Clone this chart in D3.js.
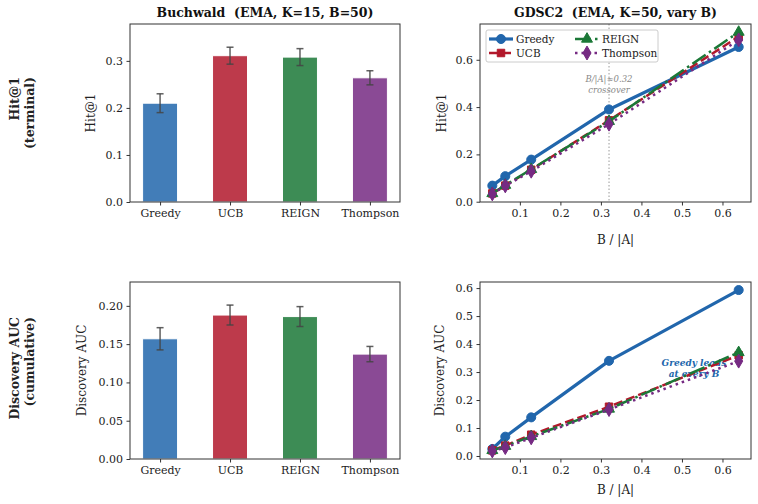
<!DOCTYPE html>
<html>
<head>
<meta charset="utf-8">
<script src="https://cdn.jsdelivr.net/npm/d3@7/dist/d3.min.js"></script>
<style>
  body { margin: 0; background: #fff; }
  svg text { font-family: "DejaVu Serif", serif; }
  .axis path, .axis line { stroke: #333; }
</style>
</head>
<body>
<div id="chart"></div>
<script>
// ---- data ----
const methods = ["Greedy", "UCB", "REIGN", "Thompson"];
const methodColors = ["#2166ac", "#b2182b", "#1b7837", "#762a83"];

// Buchwald bars (mean, error)
const buchHit = [0.210, 0.311, 0.308, 0.264];
const buchHitErr = [0.020, 0.018, 0.018, 0.015];
const buchAuc = [0.157, 0.188, 0.186, 0.137];
const buchAucErr = [0.0145, 0.013, 0.013, 0.010];

// GDSC2 budget sweep
const budgetFrac = [0.032, 0.064, 0.128, 0.32, 0.64];
const gdscHit = {
  Greedy:   [0.068, 0.108, 0.178, 0.390, 0.654],
  UCB:      [0.035, 0.068, 0.135, 0.344, 0.698],
  REIGN:    [0.035, 0.070, 0.137, 0.340, 0.717],
  Thompson: [0.033, 0.067, 0.129, 0.328, 0.684]
};
const gdscAuc = {
  Greedy:   [0.025, 0.069, 0.138, 0.340, 0.593],
  UCB:      [0.020, 0.037, 0.076, 0.176, 0.360],
  REIGN:    [0.020, 0.035, 0.070, 0.168, 0.370],
  Thompson: [0.018, 0.030, 0.065, 0.166, 0.339]
};

const hitTicks = [0, 0.1, 0.2, 0.3];
const aucTicks = [0, 0.05, 0.10, 0.15, 0.20];
const lineHitTicks = [0, 0.2, 0.4, 0.6];
const lineAucTicks = [0, 0.1, 0.2, 0.3, 0.4, 0.5, 0.6];
const fracTicks = [0.1, 0.2, 0.3, 0.4, 0.5, 0.6];

const crossover = 0.32;

// ---- styling per method ----
const lineStyle = {
  Greedy:   {width: 3.2, dash: null, marker: "circle"},
  UCB:      {width: 2.5, dash: "9,4", marker: "square"},
  REIGN:    {width: 2.5, dash: "16,4,2.5,4", marker: "triangle"},
  Thompson: {width: 2.5, dash: "2.5,4", marker: "diamond"}
};
const markerSym = {
  circle: d3.symbolCircle, square: d3.symbolSquare,
  triangle: d3.symbolTriangle, diamond: d3.symbolDiamond
};
const markerSize = {circle: 64, square: 56, triangle: 52, diamond: 56};

const FONT = "DejaVu Serif";
const W = 758, H = 504;
const svg = d3.select("#chart").append("svg")
  .attr("width", W).attr("height", H)
  .attr("font-family", FONT);

const panels = {
  tl: {x0: 130, x1: 400, y0: 24, y1: 202},
  tr: {x0: 480, x1: 751, y0: 24, y1: 202},
  bl: {x0: 130, x1: 400, y0: 282, y1: 459},
  br: {x0: 480, x1: 751, y0: 282, y1: 459}
};

function frame(p) {
  svg.append("rect")
    .attr("x", p.x0).attr("y", p.y0)
    .attr("width", p.x1 - p.x0).attr("height", p.y1 - p.y0)
    .attr("fill", "none").attr("stroke", "#333").attr("stroke-width", 1);
}

function styleAxis(a) {
  a.attr("font-family", FONT).attr("font-size", 11);
  a.select(".domain").remove();
  a.selectAll("text").attr("fill", "#222");
}

function yLabel(p, text, xPos) {
  svg.append("text")
    .attr("transform", "translate(" + xPos + "," + ((p.y0 + p.y1) / 2) + ") rotate(-90)")
    .attr("text-anchor", "middle")
    .attr("font-size", 12).attr("fill", "#222")
    .text(text);
}

function barPanel(p, vals, errs, ticks, fmt, label, labelX) {
  let x = d3.scaleLinear().domain([-0.43, 3.43]).range([p.x0, p.x1]);
  let ymax = d3.max(vals.map((v, i) => v + errs[i])) * 1.15;
  let y = d3.scaleLinear().domain([0, ymax]).range([p.y1, p.y0]);
  let bw = x(0.5) - x(0);

  let g = svg.append("g");
  g.selectAll("rect.bar").data(vals).enter().append("rect")
    .attr("class", "bar")
    .attr("x", (d, i) => x(i) - bw / 2)
    .attr("y", d => y(d))
    .attr("width", bw)
    .attr("height", d => y(0) - y(d))
    .attr("fill", (d, i) => methodColors[i])
    .attr("fill-opacity", 0.85)
    .attr("stroke", "#fff").attr("stroke-width", 1);

  // error bars
  let eb = g.selectAll("g.err").data(vals).enter().append("g")
    .attr("stroke", "#444").attr("stroke-opacity", 0.85).attr("stroke-width", 1.5);
  eb.append("line")
    .attr("x1", (d, i) => x(i)).attr("x2", (d, i) => x(i))
    .attr("y1", (d, i) => y(d - errs[i])).attr("y2", (d, i) => y(d + errs[i]));
  eb.append("line")
    .attr("x1", (d, i) => x(i) - 3.5).attr("x2", (d, i) => x(i) + 3.5)
    .attr("y1", (d, i) => y(d + errs[i])).attr("y2", (d, i) => y(d + errs[i]));
  eb.append("line")
    .attr("x1", (d, i) => x(i) - 3.5).attr("x2", (d, i) => x(i) + 3.5)
    .attr("y1", (d, i) => y(d - errs[i])).attr("y2", (d, i) => y(d - errs[i]));

  svg.append("g").attr("class", "axis")
    .attr("transform", "translate(0," + p.y1 + ")")
    .call(d3.axisBottom(x).tickValues([0, 1, 2, 3]).tickFormat(i => methods[i])
      .tickSizeOuter(0).tickSize(3.5).tickPadding(3.5))
    .call(styleAxis);
  svg.append("g").attr("class", "axis")
    .attr("transform", "translate(" + p.x0 + ",0)")
    .call(d3.axisLeft(y).tickValues(ticks).tickFormat(d3.format(fmt))
      .tickSizeOuter(0).tickSize(3.5).tickPadding(3.5))
    .call(styleAxis);

  frame(p);
  yLabel(p, label, labelX);
}

function drawMarker(sel, kind, color) {
  sel.attr("d", d3.symbol().type(markerSym[kind]).size(markerSize[kind]))
    .attr("fill", color).attr("stroke", color).attr("stroke-width", 1);
}

function linePanel(p, data, ticks, fmt, label, labelX, xLabelY, beforeLines) {
  let all = methods.flatMap(m => data[m]);
  let yr = d3.extent(all);
  let ym = (yr[1] - yr[0]) * 0.05;
  let xr = d3.extent(budgetFrac);
  let xm = (xr[1] - xr[0]) * 0.05;
  let x = d3.scaleLinear().domain([xr[0] - xm, xr[1] + xm]).range([p.x0, p.x1]);
  let y = d3.scaleLinear().domain([yr[0] - ym, yr[1] + ym]).range([p.y1, p.y0]);

  svg.append("g").attr("class", "axis")
    .attr("transform", "translate(0," + p.y1 + ")")
    .call(d3.axisBottom(x).tickValues(fracTicks).tickFormat(d3.format(".1f"))
      .tickSizeOuter(0).tickSize(3.5).tickPadding(3.5))
    .call(styleAxis);
  svg.append("g").attr("class", "axis")
    .attr("transform", "translate(" + p.x0 + ",0)")
    .call(d3.axisLeft(y).tickValues(ticks).tickFormat(d3.format(fmt))
      .tickSizeOuter(0).tickSize(3.5).tickPadding(3.5))
    .call(styleAxis);

  if (beforeLines) beforeLines(x, y);

  let line = d3.line().x((d, i) => x(budgetFrac[i])).y(d => y(d));
  methods.forEach((m, k) => {
    let st = lineStyle[m];
    svg.append("path")
      .datum(data[m])
      .attr("d", line)
      .attr("fill", "none")
      .attr("stroke", methodColors[k])
      .attr("stroke-width", st.width)
      .attr("stroke-dasharray", st.dash)
      .attr("stroke-linejoin", "round");
    svg.append("g").selectAll("path").data(data[m]).enter().append("path")
      .attr("transform", (d, i) => "translate(" + x(budgetFrac[i]) + "," + y(d) + ")")
      .call(s => drawMarker(s, st.marker, methodColors[k]));
  });

  frame(p);
  yLabel(p, label, labelX);
  svg.append("text")
    .attr("x", (p.x0 + p.x1) / 2).attr("y", xLabelY)
    .attr("text-anchor", "middle").attr("font-size", 12).attr("fill", "#222")
    .text("B / |A|");
  return {x: x, y: y};
}

// ---- panels ----
barPanel(panels.tl, buchHit, buchHitErr, hitTicks, ".1f", "Hit@1", 95);
barPanel(panels.bl, buchAuc, buchAucErr, aucTicks, ".2f", "Discovery AUC", 86);

linePanel(panels.tr, gdscHit, lineHitTicks, ".1f", "Hit@1", 446, 244, (x, y) => {
  let cx = x(crossover);
  let ann = svg.append("text").attr("text-anchor", "middle")
    .attr("font-size", 8.5).attr("font-style", "italic").attr("fill", "#888");
  ann.append("tspan").attr("x", cx).attr("y", 82).text("B/|A|≈0.32");
  ann.append("tspan").attr("x", cx).attr("y", 93).text("crossover");
  svg.append("line")
    .attr("x1", cx).attr("x2", cx)
    .attr("y1", panels.tr.y0).attr("y2", panels.tr.y1)
    .attr("stroke", "#999").attr("stroke-width", 1).attr("stroke-dasharray", "1.5,2");
});

linePanel(panels.br, gdscAuc, lineAucTicks, ".1f", "Discovery AUC", 444, 494, (x, y) => {
  let ann = svg.append("text").attr("text-anchor", "middle")
    .attr("font-size", 9).attr("font-style", "italic").attr("font-weight", "bold")
    .attr("fill", "#2166ac");
  ann.append("tspan").attr("x", 694).attr("y", 365.5).text("Greedy leads");
  ann.append("tspan").attr("x", 694).attr("y", 376.5).text("at every B");
});

// ---- legend (top-right) ----
let lg = svg.append("g").attr("transform", "translate(486,30)");
lg.append("rect").attr("width", 172).attr("height", 32).attr("rx", 2)
  .attr("fill", "#fff").attr("fill-opacity", 0.85)
  .attr("stroke", "#ccc").attr("stroke-width", 1);
methods.forEach((m, k) => {
  let col = Math.floor(k / 2), row = k % 2;
  let gx = 3 + col * 86, gy = 9 + row * 14;
  let st = lineStyle[m];
  let it = lg.append("g").attr("transform", "translate(" + gx + "," + gy + ")");
  it.append("line").attr("x1", 0).attr("x2", 24).attr("y1", 0).attr("y2", 0)
    .attr("stroke", methodColors[k]).attr("stroke-width", st.width)
    .attr("stroke-dasharray", st.dash);
  it.append("path").attr("transform", "translate(12,0)")
    .call(s => drawMarker(s, st.marker, methodColors[k]));
  it.append("text").attr("x", 27).attr("y", 4).attr("font-size", 10.5).attr("fill", "#222")
    .text(m);
});

// ---- titles ----
svg.append("text").attr("x", 265).attr("y", 17).attr("text-anchor", "middle")
  .attr("font-size", 12.5).attr("font-weight", "bold").attr("fill", "#111")
  .style("white-space", "pre")
  .text("Buchwald  (EMA, K=15, B=50)");
svg.append("text").attr("x", 615.5).attr("y", 17).attr("text-anchor", "middle")
  .attr("font-size", 12.5).attr("font-weight", "bold").attr("fill", "#111")
  .style("white-space", "pre")
  .text("GDSC2  (EMA, K=50, vary B)");

// ---- row labels ----
function rowLabel(top, lines) {
  let t = svg.append("text")
    .attr("transform", "translate(0," + top + ") rotate(-90)")
    .attr("text-anchor", "end")
    .attr("font-size", 12.5).attr("font-weight", "bold").attr("fill", "#222");
  t.append("tspan").attr("x", 0).attr("y", 19).text(lines[0]);
  t.append("tspan").attr("x", 0).attr("y", 34).text(lines[1]);
}
rowLabel(77, ["Hit@1", "(terminal)"]);
rowLabel(317, ["Discovery AUC", "(cumulative)"]);
</script>
</body>
</html>
